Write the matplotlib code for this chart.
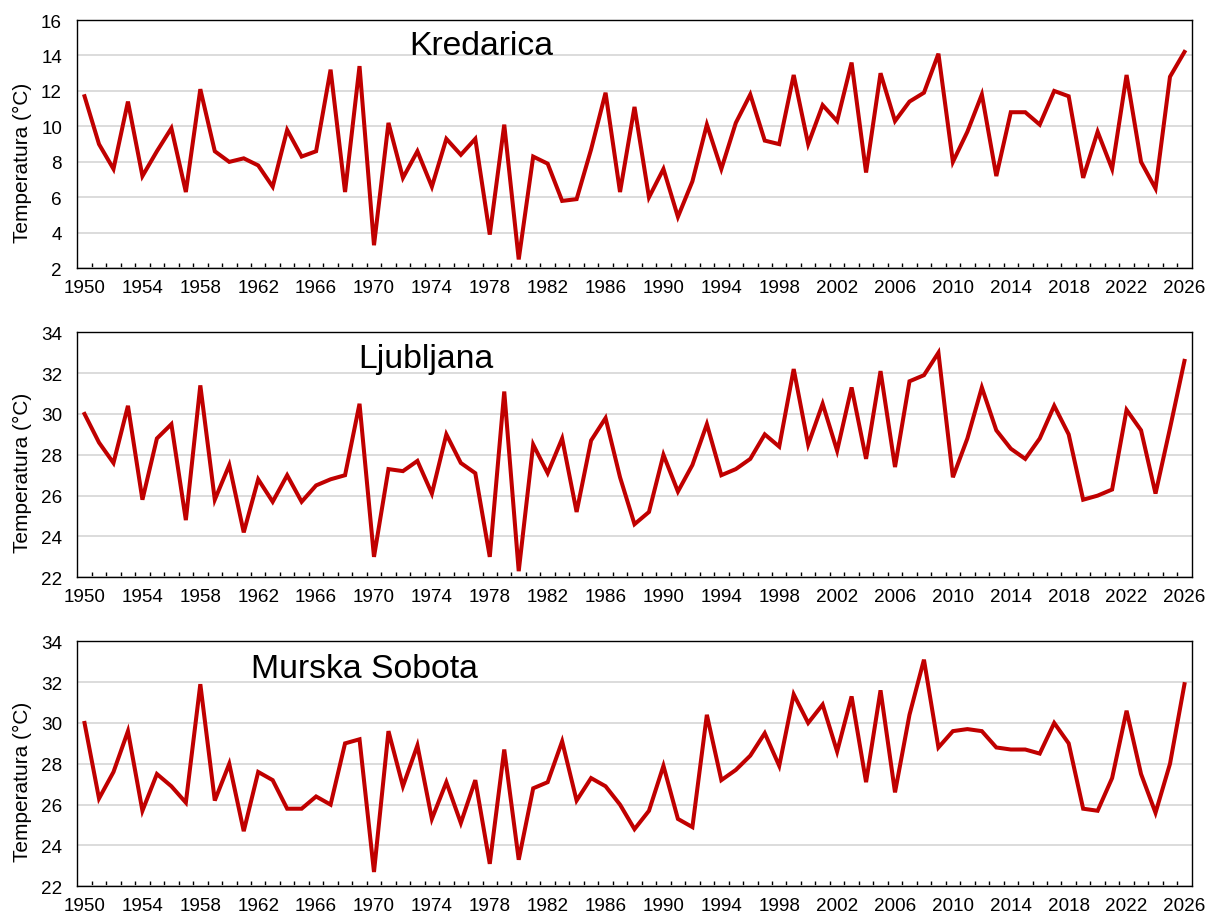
import matplotlib
matplotlib.use('Agg')
import matplotlib.pyplot as plt
from matplotlib.ticker import MultipleLocator, FixedLocator

plt.rcParams['font.family'] = ['Liberation Sans', 'DejaVu Sans']

years = list(range(1950, 2027))

kredarica = [
    11.7, 9.0, 7.6, 11.4, 7.2, 8.6, 9.9, 6.3, 12.1, 8.6,
    8.0, 8.2, 7.8, 6.6, 9.8, 8.3, 8.6, 13.2, 6.3, 13.4,
    3.3, 10.2, 7.1, 8.6, 6.6, 9.3, 8.4, 9.3, 3.9, 10.1,
    2.5, 8.3, 7.9, 5.8, 5.9, 8.7, 11.9, 6.3, 11.1, 6.0,
    7.6, 4.9, 6.9, 10.1, 7.6, 10.2, 11.8, 9.2, 9.0, 12.9,
    9.0, 11.2, 10.3, 13.6, 7.4, 13.0, 10.3, 11.4, 11.9, 14.1,
    8.0, 9.7, 11.8, 7.2, 10.8, 10.8, 10.1, 12.0, 11.7, 7.1,
    9.7, 7.6, 12.9, 8.0, 6.5, 12.8, 14.2,
]

ljubljana = [
    30.0, 28.6, 27.6, 30.4, 25.8, 28.8, 29.5, 24.8, 31.4, 25.8,
    27.5, 24.2, 26.8, 25.7, 27.0, 25.7, 26.5, 26.8, 27.0, 30.5,
    23.0, 27.3, 27.2, 27.7, 26.1, 29.0, 27.6, 27.1, 23.0, 31.1,
    22.3, 28.5, 27.1, 28.8, 25.2, 28.7, 29.8, 26.9, 24.6, 25.2,
    28.0, 26.2, 27.5, 29.5, 27.0, 27.3, 27.8, 29.0, 28.4, 32.2,
    28.5, 30.5, 28.2, 31.3, 27.8, 32.1, 27.4, 31.6, 31.9, 33.0,
    26.9, 28.8, 31.3, 29.2, 28.3, 27.8, 28.8, 30.4, 29.0, 25.8,
    26.0, 26.3, 30.2, 29.2, 26.1, 29.3, 32.6,
]

murska_sobota = [
    30.0, 26.3, 27.6, 29.6, 25.7, 27.5, 26.9, 26.1, 31.9, 26.2,
    28.0, 24.7, 27.6, 27.2, 25.8, 25.8, 26.4, 26.0, 29.0, 29.2,
    22.7, 29.6, 26.9, 28.9, 25.3, 27.1, 25.1, 27.2, 23.1, 28.7,
    23.3, 26.8, 27.1, 29.1, 26.2, 27.3, 26.9, 26.0, 24.8, 25.7,
    27.9, 25.3, 24.9, 30.4, 27.2, 27.7, 28.4, 29.5, 27.9, 31.4,
    30.0, 30.9, 28.6, 31.3, 27.1, 31.6, 26.6, 30.4, 33.1, 28.8,
    29.6, 29.7, 29.6, 28.8, 28.7, 28.7, 28.5, 30.0, 29.0, 25.8,
    25.7, 27.3, 30.6, 27.5, 25.6, 28.0, 31.9,
]

stations = ['Kredarica', 'Ljubljana', 'Murska Sobota']
series = [kredarica, ljubljana, murska_sobota]
y_ranges = [(2, 16), (22, 34), (22, 34)]

# polozaji panelov v pikslih (levo, zgoraj, desno, spodaj) in napisov
W, H = 1208, 920
boxes = [(77.3, 21.0, 1191.7, 269.3),
         (77.3, 333.3, 1191.7, 578.3),
         (77.3, 642.3, 1191.7, 887.3)]
title_pos = [(0.2977, 0.863), (0.2524, 0.857), (0.1559, 0.853)]

RED = '#C00000'
GRID = '#D9D9D9'

fig = plt.figure(figsize=(W / 100, H / 100), dpi=100)

for name, vals, (ymin, ymax), (l, t, r, b), (tx, ty) in zip(
        stations, series, y_ranges, boxes, title_pos):
    ax = fig.add_axes([l / W, 1 - b / H, (r - l) / W, (b - t) / H])
    ax.plot(years, vals, color=RED, lw=2.9, solid_joinstyle='miter', zorder=3)

    ax.set_xlim(years[0] - 0.5, years[-1] + 0.5)
    ax.set_ylim(ymin, ymax)
    ax.yaxis.set_major_locator(MultipleLocator(2))
    ax.xaxis.set_major_locator(FixedLocator(years[::4]))
    ax.xaxis.set_minor_locator(FixedLocator([y + 0.5 for y in years[:-1]]))

    ax.tick_params(axis='x', which='major', length=0, pad=8, labelsize=13.6)
    ax.tick_params(axis='x', which='minor', direction='in', length=3.4,
                   width=1.0, color='#000000')
    ax.tick_params(axis='y', length=0, pad=11, labelsize=13.6)

    ax.grid(axis='y', color=GRID, lw=1.3, zorder=0)
    ax.set_axisbelow(True)
    for sp in ax.spines.values():
        sp.set_color('#000000')
        sp.set_linewidth(1.0)

    ax.set_ylabel('Temperatura (°C)', fontsize=15)
    ax.yaxis.set_label_coords(-0.041, 0.43)

    ax.text(tx, ty, name, transform=ax.transAxes, fontsize=24.3,
            ha='left', va='baseline', color='#000000')

fig.savefig('out.png', dpi=100)
plt.close(fig)
